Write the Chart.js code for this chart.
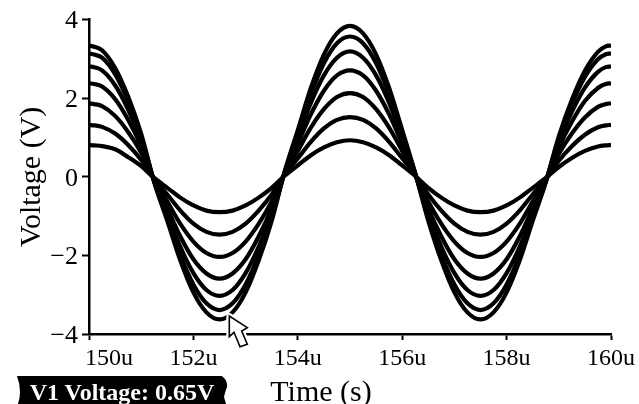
<!DOCTYPE html>
<html><head><meta charset="utf-8">
<style>
html,body{margin:0;padding:0;background:#fff;overflow:hidden}
#wrap{position:relative;width:639px;height:404px;overflow:hidden}
canvas{position:absolute;left:0;top:0}
#badge{position:absolute;left:18px;top:377px;width:208px;color:#fff;font:bold 24px "Liberation Serif",serif;text-align:center;line-height:30px;white-space:nowrap}
svg{position:absolute;left:0;top:0}
</style>
<script src="https://cdn.jsdelivr.net/npm/chart.js@4"></script>
</head><body>
<div id="wrap">
<canvas id="c" width="639" height="404"></canvas>
<svg width="639" height="404"><polygon points="229.3,316 229.3,336.7 234,332.3 240,346.7 247.3,344.3 241.7,331 247.3,327.7" fill="#fff" stroke="#fff" stroke-width="6" stroke-linejoin="round"/><polygon points="229.3,316 229.3,336.7 234,332.3 240,346.7 247.3,344.3 241.7,331 247.3,327.7" fill="#fff" stroke="#000" stroke-width="1.6" stroke-linejoin="miter"/>
<path d="M17,376 L222,376 Q228,381 227,387 Q225,392 224,397 L226,404 L18,404 Q20,398 20,392 Q20,384 17,376 Z" fill="#000"/></svg>
<div id="badge">V1 Voltage: 0.65V</div>
</div>
<script>
const times=[150,150.1,150.25,150.5,150.75,151,151.25,151.5,151.75,152,152.25,152.5,152.75,153,153.25,153.5,153.75,154,154.25,154.5,154.75,155,155.25,155.5,155.75,156,156.25,156.5,156.75,157,157.25,157.5,157.75,158,158.25,158.5,158.75,159,159.25,159.5,159.75,159.9,160];
const v1=[3.34,3.31,3.22,2.77,2.04,1.09,-.14,-1.12,-2.13,-2.94,-3.45,-3.63,-3.45,-2.94,-2.13,-1.12,.14,1.19,2.26,3.11,3.65,3.84,3.65,3.11,2.26,1.19,.09,-1.12,-2.13,-2.94,-3.45,-3.63,-3.45,-2.94,-2.13,-1.12,-.14,1.03,1.96,2.70,3.18,3.32,3.34];
const v2=[3.14,3.11,3.03,2.61,1.92,1.02,-.13,-1.05,-1.99,-2.74,-3.22,-3.39,-3.22,-2.74,-1.99,-1.05,.13,1.10,2.10,2.89,3.40,3.57,3.40,2.89,2.10,1.10,.08,-1.05,-1.99,-2.74,-3.22,-3.39,-3.22,-2.74,-1.99,-1.05,-.13,.97,1.85,2.54,2.99,3.12,3.14];
const v3=[2.81,2.79,2.71,2.33,1.71,.91,-.12,-.94,-1.78,-2.45,-2.88,-3.03,-2.88,-2.45,-1.78,-.94,.12,.99,1.88,2.58,3.03,3.19,3.03,2.58,1.88,.99,.08,-.94,-1.78,-2.45,-2.88,-3.03,-2.88,-2.45,-1.78,-.94,-.12,.87,1.65,2.27,2.67,2.79,2.81];
const v4=[2.38,2.36,2.30,1.98,1.45,.77,-.10,-.80,-1.52,-2.10,-2.46,-2.59,-2.46,-2.10,-1.52,-.80,.10,.84,1.59,2.19,2.58,2.71,2.58,2.19,1.59,.84,.06,-.80,-1.52,-2.10,-2.46,-2.59,-2.46,-2.10,-1.52,-.80,-.10,.74,1.40,1.93,2.26,2.36,2.38];
const v5=[1.87,1.85,1.80,1.55,1.14,.61,-.08,-.63,-1.20,-1.65,-1.94,-2.04,-1.94,-1.65,-1.20,-.63,.08,.66,1.25,1.72,2.03,2.13,2.03,1.72,1.25,.66,.05,-.63,-1.20,-1.65,-1.94,-2.04,-1.94,-1.65,-1.20,-.63,-.08,.58,1.10,1.51,1.78,1.85,1.87];
const v6=[1.32,1.31,1.27,1.10,.81,.43,-.06,-.45,-.86,-1.19,-1.40,-1.47,-1.40,-1.19,-.86,-.45,.06,.47,.89,1.23,1.45,1.52,1.45,1.23,.89,.47,.04,-.45,-.86,-1.19,-1.40,-1.47,-1.40,-1.19,-.86,-.45,-.06,.41,.78,1.07,1.26,1.31,1.32];
const v7=[.81,.80,.78,.70,.50,.27,-.03,-.28,-.53,-.73,-.86,-.90,-.86,-.73,-.53,-.28,.03,.29,.55,.75,.88,.93,.88,.75,.55,.29,.02,-.28,-.53,-.73,-.86,-.90,-.86,-.73,-.53,-.28,-.03,.25,.48,.66,.77,.80,.81];
const allSeries=[v1,v2,v3,v4,v5,v6,v7];
const xTitle='Time (s)';
const serif='"Liberation Serif",serif';
const placeLabels={id:'placeLabels',
 beforeDraw(chart){
  const s=chart.scales.x,items=s.getLabelItems();
  if(items.length&&!items[0].placed){items[0].placed=true;items[0].options.textAlign='left';items[0].options.translation=[s.left-4,items[0].options.translation[1]];}
  chart.scales.y.getLabelItems().forEach(it=>{if(!it.placed){it.placed=true;it.options.translation=[it.options.translation[0],it.options.translation[1]+2];}});
 },
 afterDraw(chart){
  const c=chart.ctx;c.save();c.font='30px '+serif;c.fillStyle='#000';c.textAlign='center';c.textBaseline='alphabetic';
  c.fillText(xTitle,321,401);c.restore();
 }};
new Chart(document.getElementById('c'),{
 type:'line',
 plugins:[placeLabels],
 data:{datasets:allSeries.map(s=>({data:s.map((y,i)=>({x:times[i],y})),borderColor:'#000',borderWidth:4.2,pointRadius:0,cubicInterpolationMode:'monotone',borderCapStyle:'butt',fill:false}))},
 options:{
  responsive:false,animation:false,
  layout:{padding:{top:18,right:28,left:0,bottom:0}},
  plugins:{legend:{display:false},tooltip:{enabled:false}},
  scales:{
   x:{type:'linear',min:150,max:160,
    afterFit(s){s.height=70;},
    border:{display:true,color:'#000',width:2.5},
    grid:{display:true,drawOnChartArea:false,drawTicks:true,tickLength:6,tickWidth:2,tickColor:'#000',color:'#000'},
    ticks:{stepSize:2,color:'#000',font:{family:serif,size:24},padding:4,maxRotation:0,autoSkip:false,callback:v=>v+'u'},
    title:{display:false}
   },
   y:{type:'linear',min:-4,max:4,
    afterFit(s){s.width=89;},
    border:{display:true,color:'#000',width:2.5},
    grid:{display:true,drawOnChartArea:false,drawTicks:true,tickLength:7,tickWidth:2,tickColor:'#000',color:'#000'},
    ticks:{stepSize:2,color:'#000',font:{family:serif,size:26},padding:4,callback:v=>v<0?'\u2212'+Math.abs(v):''+v},
    title:{display:true,text:'Voltage (V)',color:'#000',font:{family:serif,size:30},padding:{top:14,bottom:0}}
   }
  }
 }
});
</script>
</body></html>
